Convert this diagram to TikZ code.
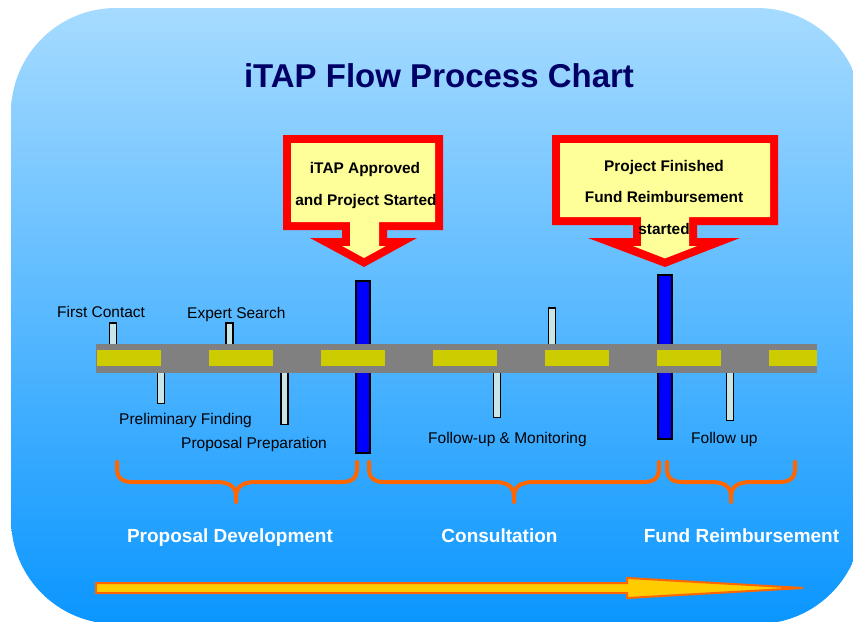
\documentclass[tikz,border=0pt]{standalone}
\usepackage{fontspec}
\setmainfont{Liberation Sans}
\definecolor{bgtop}{RGB}{166,219,255}
\definecolor{bgmid}{RGB}{120,192,255}
\definecolor{bgbot}{RGB}{10,150,255}
\definecolor{navy}{RGB}{0,0,102}
\definecolor{calloutred}{RGB}{255,0,0}
\definecolor{calloutfill}{RGB}{255,255,153}
\definecolor{roadgray}{RGB}{128,128,128}
\definecolor{dashyellow}{RGB}{204,204,0}
\definecolor{pillarfill}{RGB}{200,230,230}
\definecolor{braceorange}{RGB}{255,102,0}
\definecolor{arrowyellow}{RGB}{255,204,0}
\tikzset{
  pillar/.style={draw=black, fill=pillarfill, line width=1.5pt, minimum width=7pt, inner sep=0pt},
  bluebar/.style={draw=black, fill=blue, line width=2pt, minimum width=14pt, inner sep=0pt},
  lbl/.style={anchor=base west, inner sep=0pt, font=\fontsize{15.5}{18}\selectfont},
  ctext/.style={anchor=base, inner sep=0pt, font=\fontsize{15.4}{18}\selectfont\bfseries},
  phase/.style={anchor=base, inner sep=0pt, text=white, font=\fontsize{19}{22}\selectfont\bfseries},
  bracestyle/.style={draw=braceorange, line width=4pt, line cap=round, line join=round},
}
\begin{document}
\begin{tikzpicture}[x=1pt,y=-1pt]
\useasboundingbox (0,0) rectangle (853,621);
\fill[white] (0,0) rectangle (853,621);
\begin{scope}
\clip (0,0) rectangle (853,621);
\shade[top color=bgtop, middle color=bgmid, bottom color=bgbot, rounded corners=105pt] (11,8) rectangle (862,624);
\end{scope}

% title
\node[anchor=base, inner sep=0pt, text=navy, font=\fontsize{33}{38}\selectfont\bfseries] (title) at (439,87) {iTAP Flow Process Chart};

% callout 1
\fill[calloutred] (283,135) -- (443,135) -- (443,230) -- (387,230) -- (387,238) -- (417,238) -- (364,267) -- (310,238) -- (342,238) -- (342,230) -- (283,230) -- cycle;
\fill[calloutfill] (291,143) -- (435,143) -- (435,222) -- (379,222) -- (379,246) -- (385.8,246) -- (364,258) -- (342.2,246) -- (350,246) -- (350,222) -- (291,222) -- cycle;
\node[ctext] (c1a) at (365,173.3) {iTAP Approved};
\node[ctext] (c1b) at (366,205) {and Project Started};

% callout 2
\fill[calloutred] (552,135) -- (778,135) -- (778,225) -- (697,225) -- (697,238) -- (740,238) -- (665,267) -- (588,238) -- (633,238) -- (633,225) -- (552,225) -- cycle;
\fill[calloutfill] (560,143) -- (770,143) -- (770,217) -- (689,217) -- (689,246) -- (697,246) -- (665,258.4) -- (633,246) -- (641,246) -- (641,217) -- (560,217) -- cycle;
\node[ctext] (c2a) at (664,171.7) {Project Finished};
\node[ctext] (c2b) at (664,202.7) {Fund Reimbursement};
\node[ctext] (c2c) at (664,234) {started};

% blue milestone bars
\node[bluebar, minimum height=172pt, anchor=north] (bar1) at (363,280) {};
\node[bluebar, minimum height=164pt, anchor=north] (bar2) at (664.5,274) {};

% small pillars
\node[pillar, minimum height=26pt, anchor=north] (p1) at (113,322) {};
\node[pillar, minimum height=26pt, anchor=north] (p2) at (229.5,322) {};
\node[pillar, minimum height=40pt, anchor=north] (p6) at (552,307) {};
\node[pillar, minimum height=35pt, anchor=south] (p3) at (161,404) {};
\node[pillar, minimum height=56pt, anchor=south] (p4) at (284.5,425) {};
\node[pillar, minimum height=49pt, anchor=south] (p5) at (497,418) {};
\node[pillar, minimum height=52pt, anchor=south] (p7) at (730,421) {};

% road
\fill[roadgray] (96,344) rectangle (817,373);
\foreach \i in {0,...,5} {
  \fill[dashyellow] (97+112*\i,350) rectangle (161+112*\i,366);
}
\fill[dashyellow] (769,350) rectangle (817,366);

% labels
\node[lbl] (l1) at (57,317.5) {First Contact};
\node[lbl] (l2) at (187,318) {Expert Search};
\node[lbl] (l3) at (119,424) {Preliminary Finding};
\node[lbl] (l4) at (181,448) {Proposal Preparation};
\node[lbl] (l5) at (428,443) {Follow-up \& Monitoring};
\node[lbl] (l6) at (691,443) {Follow up};

% braces
\draw[bracestyle] (117,462) -- (117,468) .. controls (117,478) and (122,482) .. (132,482) -- (216,482) .. controls (230,482) and (236,487) .. (236,497) -- (236,502);
\draw[bracestyle] (357,462) -- (357,468) .. controls (357,478) and (352,482) .. (342,482) -- (256,482) .. controls (242,482) and (236,487) .. (236,497);
\draw[bracestyle] (369,462) -- (369,468) .. controls (369,478) and (374,482) .. (384,482) -- (494,482) .. controls (508,482) and (514,487) .. (514,497) -- (514,502);
\draw[bracestyle] (659,462) -- (659,468) .. controls (659,478) and (654,482) .. (644,482) -- (534,482) .. controls (520,482) and (514,487) .. (514,497);
\draw[bracestyle] (667,462) -- (667,468) .. controls (667,478) and (672,482) .. (682,482) -- (711,482) .. controls (725,482) and (731,487) .. (731,497) -- (731,502);
\draw[bracestyle] (795,462) -- (795,468) .. controls (795,478) and (790,482) .. (780,482) -- (751,482) .. controls (737,482) and (731,487) .. (731,497);

% phase labels
\node[phase] (ph1) at (230,542) {Proposal Development};
\node[phase] (ph2) at (499.5,542) {Consultation};
\node[phase] (ph3) at (741.5,542) {Fund Reimbursement};

% bottom arrow
\draw[fill=arrowyellow, draw=braceorange, line width=2pt, line join=miter] (96,583) -- (627,583) -- (627,578) -- (803,588) -- (627,598) -- (627,593) -- (96,593) -- cycle;
\end{tikzpicture}
\end{document}
